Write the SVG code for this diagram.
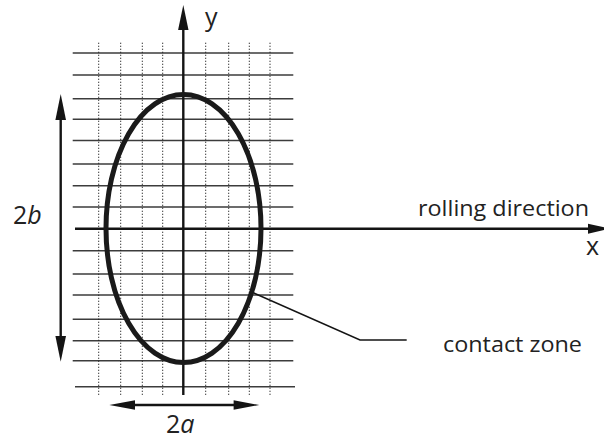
<svg xmlns="http://www.w3.org/2000/svg" width="604" height="439" viewBox="0 0 604 439">
<style>
.grid{stroke:#3c3c3c;stroke-width:1.4;fill:none}
.dot{stroke:#222;stroke-width:1;stroke-dasharray:1.2 1.8;fill:none}
.axis{stroke:#141414;stroke-width:2.4;fill:none}
.head{fill:#141414}
.lbl{font-family:"Open Sans","Liberation Sans",sans-serif;fill:#222}
</style>
<rect width="604" height="439" fill="#fff"/>
<g id="grid">
<path class="grid" d="M72.7 53H293.3M72.7 75H293.3M72.7 98.7H293.3M72.7 119.3H293.3M72.7 140.5H293.3M72.7 164H293.3M72.7 185.7H293.3M72.7 207H293.3M72.7 250.7H293.3M72.7 274H293.3M72.7 295H293.3M72.7 319.3H293.3M72.7 340.7H293.3M72.7 360.7H293.3M75 386.7H295"/>
<path class="dot" d="M98.7 42.7V396.7M120.7 42.7V396.7M142.3 42.7V396.7M162.7 42.7V396.7M205.7 42.7V396.7M228.7 42.7V396.7M249.3 42.7V396.7M270 42.7V396.7"/>
</g>
<g id="connectors">
<path class="axis" d="M183.3 395V28"/>
<polygon class="head" points="183.3,5 188.5,30 178.1,30"/>
<path class="axis" d="M75 228.7H590"/>
<polygon class="head" points="610,228.7 588,223.7 588,233.7"/>
<path class="axis" d="M60.7 118V338"/>
<polygon class="head" points="60.7,94 66,120 55.4,120"/>
<polygon class="head" points="60.7,361.7 66,336 55.4,336"/>
<path class="axis" d="M133 405H236"/>
<polygon class="head" points="109.3,405 135,400.3 135,409.7"/>
<polygon class="head" points="259.3,405 233.6,400.3 233.6,409.7"/>
<path d="M253.3 292.7L360 340H406.7" stroke="#141414" stroke-width="1.6" fill="none"/>
</g>
<g id="contact-zone">
<ellipse cx="183.5" cy="228.5" rx="77.5" ry="134" fill="none" stroke="#1a1a1a" stroke-width="5"/>
</g>
<g id="labels">
<text class="lbl" x="205" y="26" font-size="25">y</text>
<text class="lbl" x="586" y="255" font-size="25">x</text>
<text class="lbl" x="13" y="224" font-size="25">2<tspan font-style="italic">b</tspan></text>
<text class="lbl" x="166" y="432.7" font-size="25">2<tspan font-style="italic">a</tspan></text>
<text class="lbl" x="418" y="216" font-size="21" textLength="171" lengthAdjust="spacingAndGlyphs">rolling direction</text>
<text class="lbl" x="443" y="351.7" font-size="21" textLength="139" lengthAdjust="spacingAndGlyphs">contact zone</text>
</g>
</svg>
